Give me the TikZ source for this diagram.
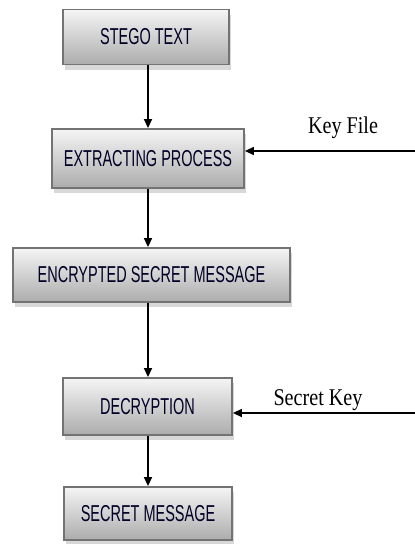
\documentclass[tikz,border=0pt]{standalone}
\usepackage{fontspec}
\setmainfont{Liberation Serif}
\newfontfamily\boxfont[FakeStretch=0.63]{Liberation Sans}
\newfontfamily\labfont[FakeStretch=0.84]{Liberation Serif}
\usetikzlibrary{arrows.meta,shadows}
\begin{document}
\begin{tikzpicture}[x=1pt,y=1pt,
  procbox/.style={draw=black!55, line width=1.8pt, top color=gray!8, bottom color=gray!65,
    minimum height=#1, inner sep=0pt, font=\boxfont\fontsize{23}{25}\selectfont, text=black!85!blue,
    drop shadow={shadow xshift=2pt, shadow yshift=-5pt, opacity=0.3, fill=black!50}},
  flow/.style={line width=1.4pt, -{Triangle[length=9pt,width=8pt]}},
  lab/.style={font=\labfont\fontsize{24}{26}\selectfont, inner sep=0pt}]
\useasboundingbox[fill=white] (0,0) rectangle (415,-544);
\node[procbox=55pt, minimum width=166pt] (b1) at (146,-37) {STEGO TEXT};
\node[procbox=59pt, minimum width=192pt] (b2) at (148,-158.5) {EXTRACTING PROCESS};
\node[procbox=54pt, minimum width=277pt] (b3) at (151.5,-275) {ENCRYPTED SECRET MESSAGE};
\node[procbox=57pt, minimum width=169pt] (b4) at (147.5,-406.5) {DECRYPTION};
\node[procbox=53pt, minimum width=168pt] (b5) at (148,-513.5) {SECRET MESSAGE};
\coordinate (k1) at (415,-151);
\coordinate (k2) at (415,-413);
\node[lab] (l1) at (343,-128) {Key File};
\node[lab] (l2) at (318,-400) {Secret Key};
\draw[flow] (b1.south -| 148,0) -- (b2.north -| 148,0);
\draw[flow] (b2.south -| 148,0) -- (b3.north -| 148,0);
\draw[flow] (b3.south -| 148,0) -- (b4.north -| 148,0);
\draw[flow] (b4.south -| 148,0) -- (b5.north -| 148,0);
\draw[flow] (k1) -- (b2.east |- k1);
\draw[flow] (k2) -- (b4.east |- k2);
\end{tikzpicture}
\end{document}
